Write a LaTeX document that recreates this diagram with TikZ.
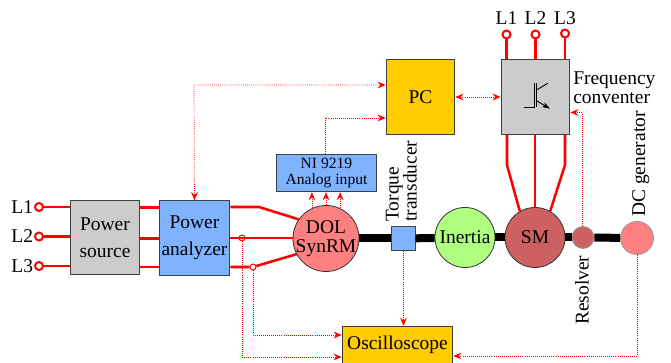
\documentclass[tikz,border=0pt]{standalone}
\usepackage{fontspec}
\setmainfont{Liberation Serif}
\usepackage{tikz}
\usetikzlibrary{arrows.meta}
\definecolor{BoxBlue}{HTML}{80B3FF}
\definecolor{BoxGray}{HTML}{CCCCCC}
\definecolor{BoxOrange}{HTML}{FFCC00}
\definecolor{MotorRed}{HTML}{FF8080}
\definecolor{SmRed}{HTML}{CD6060}
\definecolor{InertiaGreen}{HTML}{AFFF80}
\tikzset{
    bigfont/.style={font=\fontsize{14.6}{14.2}\selectfont},
    blockbox/.style={draw=black!75, line width=0.8pt, inner sep=0pt, minimum width=51.5pt, minimum height=56pt, align=center, bigfont},
    machine/.style={circle, draw=black!80, line width=0.6pt, inner sep=0pt, align=center, bigfont},
    terminal/.style={circle, draw=red, line width=1.5pt, fill=white, inner sep=0pt, minimum size=6pt},
    tap/.style={circle, draw=red, line width=0.7pt, inner sep=0pt, minimum size=4.5pt},
    power/.style={draw=red, line width=1.9pt},
    shaft/.style={draw=black, line width=6pt},
    signal/.style={draw=red, line width=0.55pt, densely dotted, >={Stealth[length=6pt, width=5pt, inset=2pt]}},
    sidelabel/.style={bigfont, rotate=90, anchor=base west, inner sep=0pt}
}
\begin{document}
\begin{tikzpicture}[x=0.75pt, y=-0.75pt]
    \useasboundingbox (0,0) rectangle (671,363);

    % blocks
    \node[blockbox, fill=BoxGray] (source) at (105,237.5) {Power\\[6pt]source};
    \node[blockbox, fill=BoxBlue, minimum width=53pt] (analyzer) at (194.5,238) {Power\\[6pt]analyzer};
    \node[blockbox, fill=BoxOrange] (pc) at (420.5,97) {PC};
    \node[blockbox, fill=BoxGray] (conv) at (535.5,97) {};
    \node[blockbox, fill=BoxOrange, minimum width=83pt, minimum height=28pt] (scope) at (397.5,345) {Oscilloscope};
    \node[blockbox, fill=BoxBlue, minimum width=75.5pt, minimum height=28pt, font=\fontsize{11.7}{11.5}\selectfont] (ni) at (326.5,173) {NI 9219\\Analog input};
    \node[blockbox, fill=BoxBlue, minimum width=17.5pt, minimum height=17.5pt, line width=0.6pt] (torque) at (403.5,238.5) {};

    % machines
    \node[machine, fill=MotorRed, minimum size=49.5pt] (dol) at (326,238.5) {};
    \node[bigfont, align=center, inner sep=0pt] (doltext) at (dol) {DOL\\SynRM};
    \node[machine, fill=InertiaGreen, minimum size=45pt] (inertia) at (465,237.5) {Inertia};
    \node[machine, fill=SmRed, minimum size=45pt] (sm) at (535,237.5) {SM};
    \node[machine, fill=SmRed, draw=black!40, minimum size=16.5pt] (resolver) at (583,237.5) {};
    \node[machine, fill=MotorRed, draw=black!40, minimum size=24.75pt] (dcgen) at (637,238) {};

    \draw[shaft] (dol) -- (torque);
    \draw[shaft] (torque) -- (inertia);
    \draw[shaft] (inertia) -- (sm);
    \draw[shaft] (sm) -- (resolver);
    \draw[shaft] (resolver) -- (dcgen);

    % supply side
    \node[terminal] (inA) at (39,207) {};
    \node[terminal] (inB) at (39,236.5) {};
    \node[terminal] (inC) at (39,266) {};
    \node[bigfont, anchor=east, inner sep=0.5pt] at (inA.west) {L1};
    \node[bigfont, anchor=east, inner sep=0.5pt] at (inB.west) {L2};
    \node[bigfont, anchor=east, inner sep=0.5pt] at (inC.west) {L3};
    \draw[power] (inA) -- (inA -| source.west);
    \draw[power] (inB) -- (inB -| source.west);
    \draw[power] (inC) -- (inC -| source.west);

    \coordinate (midA) at (150,207.5);
    \coordinate (midB) at (150,238.5);
    \coordinate (midC) at (150,267);
    \draw[power] (midA -| source.east) -- (midA -| analyzer.west);
    \draw[power] (midB -| source.east) -- (midB -| analyzer.west);
    \draw[power] (midC -| source.east) -- (midC -| analyzer.west);

    \node[tap] (tapB) at (242,238) {};
    \node[tap] (tapC) at (253,267) {};
    \coordinate (kneeA) at (259,207);
    \draw[power] (kneeA -| analyzer.east) -- (kneeA) -- (dol.145);
    \draw[power] (tapB -| analyzer.east) -- (tapB -| dol.west);
    \draw[power] (tapC -| analyzer.east) -- (tapC) -- (dol.208);

    % converter side
    \node[terminal] (topA) at (506.5,34.5) {};
    \node[terminal] (topB) at (535.5,34.5) {};
    \node[terminal] (topC) at (565,33.5) {};
    \node[bigfont, anchor=south] at (506.5,29) {L1};
    \node[bigfont, anchor=south] at (535.5,29) {L2};
    \node[bigfont, anchor=south] at (565,29) {L3};
    \draw[power] (topA) -- (topA |- conv.north);
    \draw[power] (topB) -- (topB |- conv.north);
    \draw[power] (topC) -- (topC |- conv.north);

    \coordinate (bendA) at (507,165);
    \coordinate (bendC) at (565,165);
    \draw[power] (bendA |- conv.south) -- (bendA) -- (sm.120);
    \draw[power] (sm.north |- conv.south) -- (sm.north);
    \draw[power] (bendC |- conv.south) -- (bendC) -- (sm.60);

    % igbt
    \draw[line width=0.7pt] (524.3,107.3) -- (534.7,107.3) -- (534.7,83.3);
    \draw[line width=0.7pt] (536.5,83.3) -- (536.5,107.3);
    \draw[line width=0.7pt] (536.5,90) -- (547.7,83.3);
    \draw[line width=0.7pt, -{Stealth[length=6pt, width=4pt]}] (536.5,100.7) -- (550,108.7);

    % signals
    \coordinate (dotPC) at (194,85);
    \coordinate (dotNI) at (325,118);
    \coordinate (dotB) at (242,357);
    \coordinate (dotC) at (253,335);
    \coordinate (dotDC) at (637,356);
    \coordinate (dotRes) at (582,112.5);
    \draw[signal, <->] (analyzer.north) -- (dotPC) -- (dotPC -| pc.west);
    \draw[signal, ->] (ni.north -| dotNI) -- (dotNI) -- (dotNI -| pc.west);
    \draw[signal, <->] (pc.east) -- (conv.west);
    \draw[signal, ->] (dol.115) -- (dol.115 |- ni.south);
    \draw[signal, ->] (dol.north) -- (dol.north |- ni.south);
    \draw[signal, ->] (dol.65) -- (dol.65 |- ni.south);
    \draw[signal, ->] (tapB) -- (dotB) -- (dotB -| scope.west);
    \draw[signal, ->] (tapC) -- (dotC) -- (dotC -| scope.west);
    \draw[signal, ->] (torque) -- (torque |- scope.north);
    \draw[signal, ->] (dcgen) -- (dotDC) -- (dotDC -| scope.east);
    \draw[signal, ->] (resolver.north -| dotRes) -- (dotRes) -- (dotRes -| conv.east);

    % labels
    \node[bigfont, anchor=west, align=left, inner sep=0pt] at (573,87.5) {Frequency\\conventer};
    \node[sidelabel] at (398.5,222) {Torque};
    \node[sidelabel] at (416.5,222) {transducer};
    \node[sidelabel] at (588.5,325) {Resolver};
    \node[sidelabel] at (645,217) {DC generator};
\end{tikzpicture}
\end{document}
